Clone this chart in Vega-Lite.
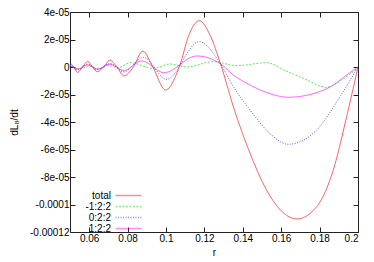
{
  "$schema": "https://vega.github.io/schema/vega-lite/v6.json",
  "width": 288,
  "height": 220,
  "autosize": {"type": "none"},
  "padding": {"left": 70, "top": 12, "right": 16, "bottom": 30},
  "background": "white",
  "config": {
    "font": "Liberation Sans",
    "view": {"stroke": "#222", "strokeWidth": 1},
    "axis": {"labelFont": "Liberation Sans", "titleFont": "Liberation Sans", "labelFontSize": 10, "titleFontSize": 10, "labelColor": "#000", "titleColor": "#000", "titleFontWeight": "normal", "grid": false, "domain": false, "tickColor": "#222", "tickSize": -5, "tickWidth": 1},
    "legend": {"orient": "none", "legendX": 53, "legendY": 178, "title": null, "symbolType": "M-2.9,0H2.9", "symbolSize": 81, "symbolStrokeWidth": 1.5, "labelAlign": "right", "labelOffset": -23, "labelFontSize": 10, "labelFont": "Liberation Sans", "rowPadding": -1, "symbolOpacity": 0.45}
  },
  "datasets": {
    "curves": [
      {"r": 0.050, "v": 0.31e-5, "s": "total"},
      {"r": 0.052, "v": 0.0, "s": "total"},
      {"r": 0.054, "v": -0.39e-5, "s": "total"},
      {"r": 0.0565, "v": 0.0, "s": "total"},
      {"r": 0.0592, "v": 0.41e-5, "s": "total"},
      {"r": 0.0617, "v": 0.0, "s": "total"},
      {"r": 0.0642, "v": -0.34e-5, "s": "total"},
      {"r": 0.0675, "v": 0.0, "s": "total"},
      {"r": 0.0708, "v": 0.49e-5, "s": "total"},
      {"r": 0.0745, "v": 0.0, "s": "total"},
      {"r": 0.0781, "v": -0.65e-5, "s": "total"},
      {"r": 0.083, "v": 0.0, "s": "total"},
      {"r": 0.0879, "v": 1.16e-5, "s": "total"},
      {"r": 0.0931, "v": 0.0, "s": "total"},
      {"r": 0.0998, "v": -1.67e-5, "s": "total"},
      {"r": 0.1069, "v": 0.0, "s": "total"},
      {"r": 0.1121, "v": 2.38e-5, "s": "total"},
      {"r": 0.1173, "v": 3.37e-5, "s": "total"},
      {"r": 0.123, "v": 2.3e-5, "s": "total"},
      {"r": 0.1287, "v": 0.1e-5, "s": "total"},
      {"r": 0.1351, "v": -2.89e-5, "s": "total"},
      {"r": 0.1438, "v": -6.28e-5, "s": "total"},
      {"r": 0.1524, "v": -8.95e-5, "s": "total"},
      {"r": 0.1611, "v": -10.6e-5, "s": "total"},
      {"r": 0.1681, "v": -11.05e-5, "s": "total"},
      {"r": 0.1785, "v": -10.16e-5, "s": "total"},
      {"r": 0.1871, "v": -7.5e-5, "s": "total"},
      {"r": 0.1941, "v": -3.6e-5, "s": "total"},
      {"r": 0.2, "v": 0.0, "s": "total"},

      {"r": 0.050, "v": 0.1e-5, "s": "-1:2:2"},
      {"r": 0.055, "v": -0.15e-5, "s": "-1:2:2"},
      {"r": 0.060, "v": 0.05e-5, "s": "-1:2:2"},
      {"r": 0.065, "v": -0.15e-5, "s": "-1:2:2"},
      {"r": 0.070, "v": 0.1e-5, "s": "-1:2:2"},
      {"r": 0.075, "v": -0.05e-5, "s": "-1:2:2"},
      {"r": 0.0813, "v": 0.31e-5, "s": "-1:2:2"},
      {"r": 0.0934, "v": -0.1e-5, "s": "-1:2:2"},
      {"r": 0.1021, "v": 0.22e-5, "s": "-1:2:2"},
      {"r": 0.1108, "v": 0.0, "s": "-1:2:2"},
      {"r": 0.1246, "v": 0.39e-5, "s": "-1:2:2"},
      {"r": 0.1368, "v": 0.1e-5, "s": "-1:2:2"},
      {"r": 0.1524, "v": 0.31e-5, "s": "-1:2:2"},
      {"r": 0.162, "v": -0.25e-5, "s": "-1:2:2"},
      {"r": 0.1715, "v": -0.82e-5, "s": "-1:2:2"},
      {"r": 0.1837, "v": -1.48e-5, "s": "-1:2:2"},
      {"r": 0.192, "v": -0.9e-5, "s": "-1:2:2"},
      {"r": 0.2, "v": -0.05e-5, "s": "-1:2:2"},

      {"r": 0.050, "v": 0.2e-5, "s": "0:2:2"},
      {"r": 0.054, "v": -0.2e-5, "s": "0:2:2"},
      {"r": 0.0592, "v": 0.2e-5, "s": "0:2:2"},
      {"r": 0.0642, "v": -0.2e-5, "s": "0:2:2"},
      {"r": 0.0708, "v": 0.25e-5, "s": "0:2:2"},
      {"r": 0.0781, "v": -0.35e-5, "s": "0:2:2"},
      {"r": 0.0882, "v": 0.7e-5, "s": "0:2:2"},
      {"r": 0.1003, "v": -0.9e-5, "s": "0:2:2"},
      {"r": 0.1173, "v": 1.84e-5, "s": "0:2:2"},
      {"r": 0.1287, "v": 0.15e-5, "s": "0:2:2"},
      {"r": 0.1351, "v": -1.43e-5, "s": "0:2:2"},
      {"r": 0.1438, "v": -3.13e-5, "s": "0:2:2"},
      {"r": 0.1524, "v": -4.6e-5, "s": "0:2:2"},
      {"r": 0.1637, "v": -5.62e-5, "s": "0:2:2"},
      {"r": 0.1785, "v": -4.58e-5, "s": "0:2:2"},
      {"r": 0.1906, "v": -2.16e-5, "s": "0:2:2"},
      {"r": 0.2, "v": 0.0, "s": "0:2:2"},

      {"r": 0.050, "v": 0.15e-5, "s": "1:2:2"},
      {"r": 0.054, "v": -0.15e-5, "s": "1:2:2"},
      {"r": 0.0592, "v": 0.15e-5, "s": "1:2:2"},
      {"r": 0.0642, "v": -0.15e-5, "s": "1:2:2"},
      {"r": 0.0708, "v": 0.2e-5, "s": "1:2:2"},
      {"r": 0.0781, "v": -0.25e-5, "s": "1:2:2"},
      {"r": 0.0873, "v": 0.44e-5, "s": "1:2:2"},
      {"r": 0.099, "v": -0.41e-5, "s": "1:2:2"},
      {"r": 0.116, "v": 0.8e-5, "s": "1:2:2"},
      {"r": 0.1287, "v": 0.2e-5, "s": "1:2:2"},
      {"r": 0.1351, "v": -0.58e-5, "s": "1:2:2"},
      {"r": 0.1438, "v": -1.31e-5, "s": "1:2:2"},
      {"r": 0.1524, "v": -1.85e-5, "s": "1:2:2"},
      {"r": 0.1637, "v": -2.2e-5, "s": "1:2:2"},
      {"r": 0.175, "v": -2.0e-5, "s": "1:2:2"},
      {"r": 0.1871, "v": -1.31e-5, "s": "1:2:2"},
      {"r": 0.1941, "v": -0.58e-5, "s": "1:2:2"},
      {"r": 0.2, "v": 0.0, "s": "1:2:2"}
    ]
  },
  "data": {"name": "curves"},
  "layer": [
    {
      "mark": {"type": "line", "strokeWidth": 1, "opacity": 0.65, "interpolate": "monotone", "clip": true},
      "encoding": {
        "x": {"field": "r", "type": "quantitative", "scale": {"domain": [0.05, 0.2], "nice": false, "zero": false},
          "axis": {"orient": "bottom", "title": "r", "values": [0.06, 0.08, 0.1, 0.12, 0.14, 0.16, 0.18, 0.2], "format": "~g", "labelPadding": 6, "titlePadding": 4}},
        "y": {"field": "v", "type": "quantitative", "scale": {"domain": [-0.00012, 0.00004], "nice": false, "zero": false},
          "axis": {"orient": "left", "title": "dL₈/dt", "values": [-0.00012, -0.0001, -0.00008, -0.00006, -0.00004, -0.00002, 0, 0.00002, 0.00004],
            "labelExpr": "replace(abs(datum.value) < 1e-10 ? '0' : abs(datum.value) >= 0.99e-4 ? format(datum.value, '.5~f') : replace(format(datum.value, '.0e'), 'e-', 'e-0'), '−', '-')",
            "labelPadding": 6, "titlePadding": 10}},
        "color": {"field": "s", "type": "nominal",
          "scale": {"domain": ["total", "-1:2:2", "0:2:2", "1:2:2"], "range": ["#ff0000", "#00dd00", "#0000ff", "#ff00ff"]}},
        "strokeDash": {"field": "s", "type": "nominal",
          "scale": {"domain": ["total", "-1:2:2", "0:2:2", "1:2:2"], "range": [[1, 0], [2, 1.5], [1, 1.5], [1, 0]]}}
      }
    },
    {
      "mark": {"type": "point", "opacity": 0},
      "encoding": {
        "x": {"field": "r", "type": "quantitative", "scale": {"domain": [0.05, 0.2], "nice": false, "zero": false},
          "axis": {"orient": "top", "title": null, "labels": false, "values": [0.06, 0.08, 0.1, 0.12, 0.14, 0.16, 0.18, 0.2]}},
        "y": {"field": "v", "type": "quantitative", "scale": {"domain": [-0.00012, 0.00004], "nice": false, "zero": false},
          "axis": {"orient": "right", "title": null, "labels": false, "values": [-0.00012, -0.0001, -0.00008, -0.00006, -0.00004, -0.00002, 0, 0.00002, 0.00004]}}
      }
    }
  ],
  "resolve": {"axis": {"x": "independent", "y": "independent"}}
}
